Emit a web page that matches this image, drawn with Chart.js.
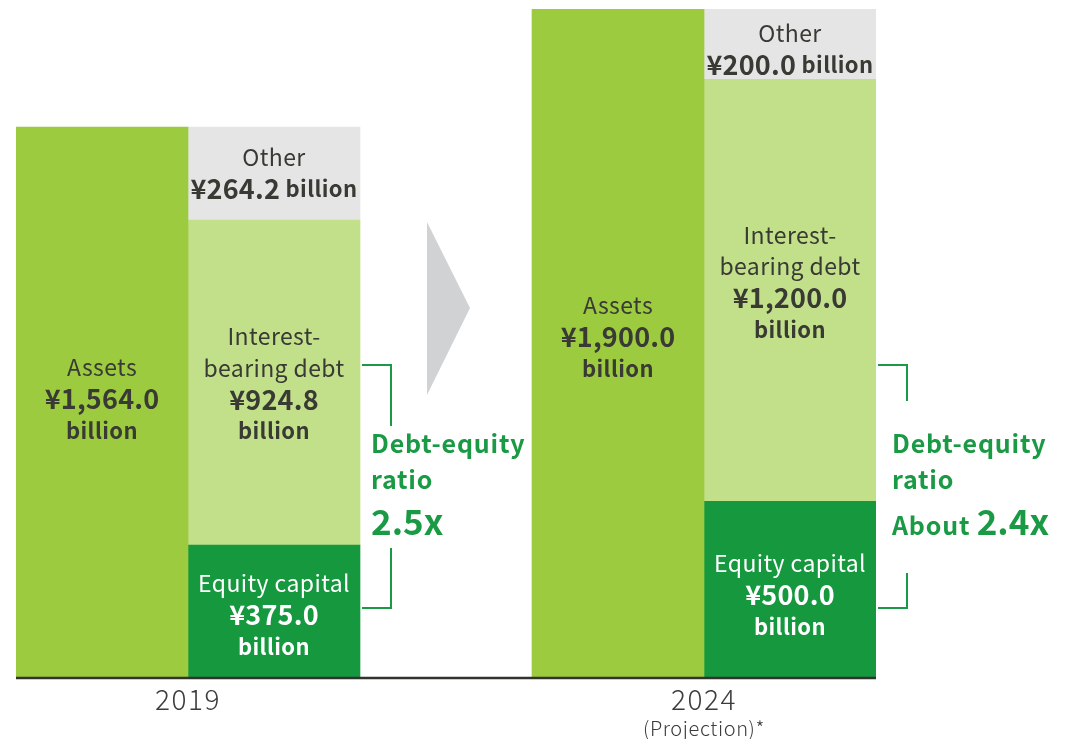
<!DOCTYPE html>
<html lang="en">
<head>
  <meta charset="UTF-8" />
  <title>Assets and Debt-equity Ratio</title>
  <script src="https://cdn.jsdelivr.net/npm/chart.js"></script>
  <style>
    html, body { margin: 0; padding: 0; background: #fff; }
    #wrap { width: 1066px; height: 739px; position: relative; }
  </style>
</head>
<body>
  <div id="wrap"><canvas id="balanceChart"></canvas></div>

  <script>
    // balance sheet figures, ¥ billion
    const years = ['2019', '2024'];
    const yearNotes = ['', '(Projection)*'];
    const assets = [1564.0, 1900.0];
    const equityCapital = [375.0, 500.0];
    const interestDebt = [924.8, 1200.0];
    const otherLiabilities = [264.2, 200.0];
    const ratioPrefix = ['', 'About '];
    const ratioValue = ['2.5x', '2.4x'];

    const FONT = '"Noto Sans CJK JP", "Noto Sans", sans-serif';
    const DARK = '#3a3a34';
    const GREEN = '#1b9a45';

    // five slots: assets / liabilities for each year, with an empty slot between
    const slots = ['Assets 2019', 'Liabilities 2019', '', 'Assets 2024', 'Liabilities 2024'];
    const toSlots = (vals, side) => {
      const out = [null, null, null, null, null];
      vals.forEach((v, i) => { out[i * 3 + side] = v; });
      return out;
    };

    const fmt = v => '¥' + v.toLocaleString('en-US', { minimumFractionDigits: 1, maximumFractionDigits: 1 });

    const reg = size => `400 ${size}px ${FONT}`;
    const bold = size => `700 ${size}px ${FONT}`;

    // parts: [{text, font, ls}] drawn side by side, centred on cx
    function drawLine(ctx, cx, y, parts, color) {
      let total = 0;
      parts.forEach(p => {
        ctx.font = p.font;
        ctx.letterSpacing = (p.ls || 0) + 'px';
        p.w = ctx.measureText(p.text).width;
        total += p.w;
      });
      let x = cx - total / 2;
      ctx.fillStyle = color;
      ctx.textAlign = 'left';
      ctx.textBaseline = 'middle';
      parts.forEach(p => {
        ctx.font = p.font;
        ctx.letterSpacing = (p.ls || 0) + 'px';
        ctx.fillText(p.text, x, y);
        x += p.w;
      });
      ctx.letterSpacing = '0px';
    }

    const word = t => ({ text: t, font: reg(23), ls: 0.4 });
    const num = v => ({ text: fmt(v), font: bold(27), ls: 0.2 });
    const unit = t => ({ text: t, font: bold(22), ls: 0.4 });

    const segmentLines = {
      assets: v => [[word('Assets')], [num(v)], [unit('billion')]],
      debt: v => [[word('Interest-')], [word('bearing debt')], [num(v)], [unit('billion')]],
      equity: v => [[word('Equity capital')], [num(v)], [unit('billion')]],
      other: v => [[word('Other')], [num(v), unit(' billion')]]
    };

    const barLabels = {
      id: 'barLabels',
      afterDatasetsDraw(chart) {
        const ctx = chart.ctx;
        ctx.save();
        chart.data.datasets.forEach((ds, di) => {
          const meta = chart.getDatasetMeta(di);
          meta.data.forEach((el, i) => {
            const v = ds.data[i];
            if (v == null) return;
            const lines = segmentLines[ds.key](v);
            const lh = 31.5;
            const cy = (el.y + el.base) / 2 + ds.textShift[Math.floor(i / 3)];
            const y0 = cy - (lines.length - 1) * lh / 2;
            lines.forEach((parts, li) => drawLine(ctx, el.x, y0 + li * lh, parts, ds.textColor));
          });
        });
        ctx.restore();
      }
    };

    const decorations = {
      id: 'decorations',
      afterDraw(chart) {
        const ctx = chart.ctx;
        const xs = chart.scales.x, ys = chart.scales.y;
        const area = chart.chartArea;
        const half = (xs.getPixelForValue(1) - xs.getPixelForValue(0)) / 2;
        ctx.save();

        // baseline
        ctx.strokeStyle = '#33332d';
        ctx.lineWidth = 2.5;
        ctx.beginPath();
        ctx.moveTo(area.left, ys.getPixelForValue(0) + 1);
        ctx.lineTo(area.right, ys.getPixelForValue(0) + 1);
        ctx.stroke();

        // year labels under each pair of bars
        years.forEach((yr, i) => {
          const cx = (xs.getPixelForValue(i * 3) + xs.getPixelForValue(i * 3 + 1)) / 2;
          ctx.fillStyle = '#3c3c3c';
          ctx.textAlign = 'center';
          ctx.textBaseline = 'middle';
          ctx.letterSpacing = '1.5px';
          ctx.font = `300 28px ${FONT}`;
          ctx.fillText(yr, cx, area.bottom + 22);
          if (yearNotes[i]) {
            ctx.letterSpacing = '0.6px';
            ctx.font = `300 20px ${FONT}`;
            ctx.fillText(yearNotes[i], cx, area.bottom + 51);
          }
          ctx.letterSpacing = '0px';
        });

        // arrow between the two years
        const ax = xs.getPixelForValue(2);
        ctx.fillStyle = '#d1d2d3';
        ctx.beginPath();
        ctx.moveTo(ax - 19, 222);
        ctx.lineTo(ax + 24, 308);
        ctx.lineTo(ax - 19, 395);
        ctx.closePath();
        ctx.fill();

        // debt-equity brackets and captions
        const brackets = [
          { upper: [365, 426], lower: [548, 608], textDx: 11 },
          { upper: [365, 401], lower: [573, 608], textDx: 16 }
        ];
        brackets.forEach((b, i) => {
          const right = xs.getPixelForValue(i * 3 + 1) + half;
          const bx = right + 31;
          ctx.strokeStyle = GREEN;
          ctx.lineWidth = 2;
          ctx.beginPath();
          ctx.moveTo(right + 2, b.upper[0]);
          ctx.lineTo(bx, b.upper[0]);
          ctx.lineTo(bx, b.upper[1]);
          ctx.moveTo(bx, b.lower[0]);
          ctx.lineTo(bx, b.lower[1]);
          ctx.lineTo(right + 2, b.lower[1]);
          ctx.stroke();

          const tx = right + b.textDx;
          ctx.fillStyle = GREEN;
          ctx.textAlign = 'left';
          ctx.textBaseline = 'alphabetic';
          ctx.letterSpacing = '0.8px';
          ctx.font = bold(25);
          ctx.fillText('Debt-equity', tx, 453);
          ctx.fillText('ratio', tx, 489);
          let x = tx;
          if (ratioPrefix[i]) {
            ctx.font = bold(25);
            ctx.fillText(ratioPrefix[i], x, 535);
            x += ctx.measureText(ratioPrefix[i]).width;
          }
          ctx.letterSpacing = '0px';
          ctx.font = bold(35);
          ctx.fillText(ratioValue[i], x, 535);
        });

        ctx.restore();
      }
    };

    new Chart(document.getElementById('balanceChart'), {
      type: 'bar',
      data: {
        labels: slots,
        datasets: [
          { key: 'assets', data: toSlots(assets, 0), backgroundColor: '#9dcb40', textColor: DARK, textShift: [-3, -6] },
          { key: 'equity', data: toSlots(equityCapital, 1), backgroundColor: '#16983f', textColor: '#ffffff', textShift: [4, 6] },
          { key: 'debt', data: toSlots(interestDebt, 1), backgroundColor: '#c2df8a', textColor: DARK, textShift: [1, -8] },
          { key: 'other', data: toSlots(otherLiabilities, 1), backgroundColor: '#e5e5e5', textColor: DARK, textShift: [-1, 5] }
        ]
      },
      options: {
        responsive: true,
        maintainAspectRatio: false,
        animation: false,
        layout: { padding: { left: 16, right: 190, top: 9, bottom: 62 } },
        datasets: { bar: { barPercentage: 1, categoryPercentage: 1, borderWidth: 0 } },
        plugins: { legend: { display: false }, tooltip: { enabled: false } },
        scales: {
          x: { stacked: true, display: false },
          y: { stacked: true, display: false, min: 0, max: 1900 }
        }
      },
      plugins: [barLabels, decorations]
    });
  </script>
</body>
</html>
